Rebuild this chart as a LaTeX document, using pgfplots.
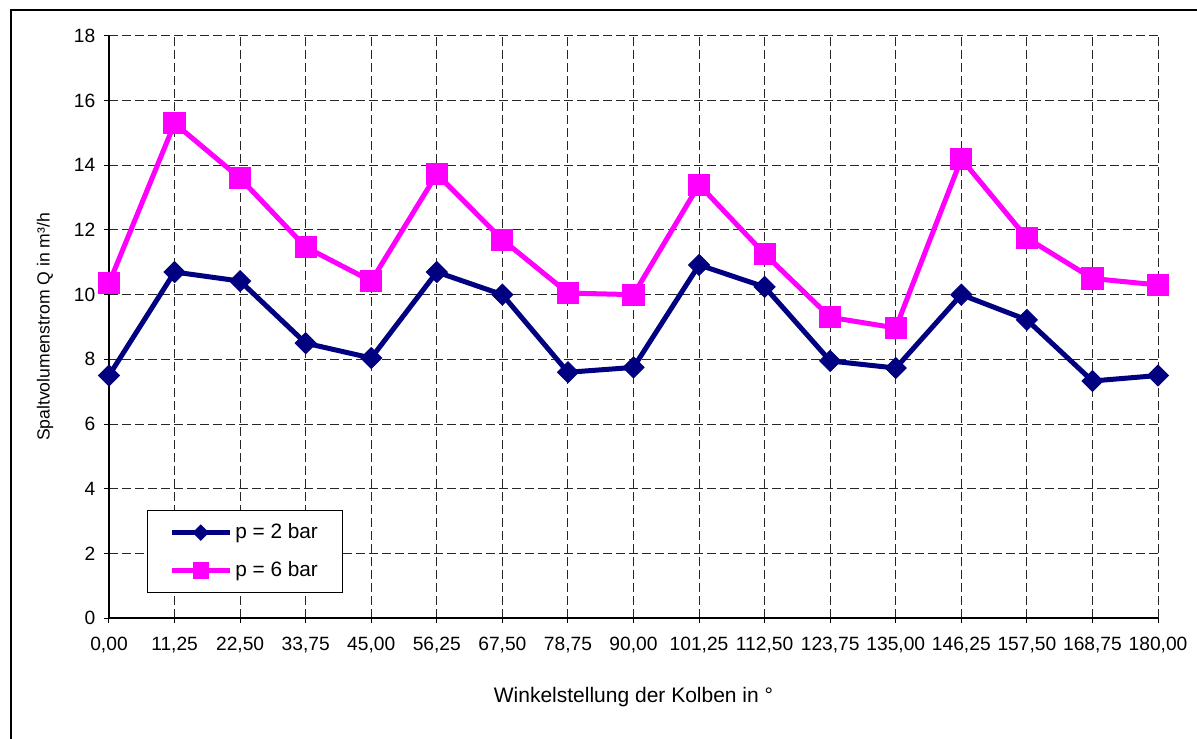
\documentclass[border=0pt]{standalone}
\usepackage{fontspec}
\setmainfont{Liberation Sans}
\usepackage{pgfplots}
\pgfplotsset{compat=1.18}
\definecolor{navyline}{RGB}{0,0,128}
\definecolor{magline}{RGB}{255,0,255}
\begin{document}
\fontsize{9.6}{11}\selectfont
\begin{tikzpicture}
\begin{axis}[
    at={(0pt,0pt)}, anchor=south west,
    scale only axis,
    width=524.5pt, height=291pt,
    xmin=0, xmax=180, ymin=0, ymax=18,
    xtick={0,11.25,...,180}, ytick={0,2,...,18},
    axis lines=left, axis line style={-, line width=0.9pt},
    grid=major, major grid style={black!85, dash pattern=on 4.5pt off 2pt, line width=0.5pt},
    tick align=outside, major tick length=2.5pt,
    tick style={black, line width=0.5pt},
    xticklabel={\pgfmathprintnumber[fixed, fixed zerofill, precision=2, use comma, assume math mode=true]{\tick}},
    yticklabel={\pgfmathprintnumber[assume math mode=true]{\tick}},
    xticklabel style={yshift=-3.5pt},
    yticklabel style={xshift=-1pt},
    xlabel={Winkelstellung der Kolben in °},
    ylabel={Spaltvolumenstrom Q in m³/h},
    xlabel style={at={(0.5,0)}, anchor=center, yshift=-39.5pt, font=\fontsize{10.5}{12}\selectfont},
    ylabel style={at={(0,0.5)}, anchor=center, yshift=32pt, font=\fontsize{8.8}{10}\selectfont},
    legend style={at={(0.036,0.043)}, anchor=south west, draw=black, line width=0.5pt,
        font=\fontsize{10.4}{12}\selectfont, row sep=6pt, inner xsep=11pt, inner ysep=4.5pt,
        nodes={inner xsep=1.5pt}},
    legend cell align=left,
    legend image code/.code={\draw[mark repeat=2, mark phase=2, #1, every mark/.append style={scale=0.72}]
        plot coordinates {(0pt,0pt) (14.5pt,0pt) (29pt,0pt)};},
    clip=false,
]
\addplot[navyline, line width=2.5pt, mark=square*, mark size=3.7pt,
    mark options={rotate=45, solid, line width=0.5pt}] coordinates {
    (0,7.5) (11.25,10.7) (22.5,10.42) (33.75,8.5) (45,8.04) (56.25,10.7)
    (67.5,10.0) (78.75,7.6) (90,7.75) (101.25,10.92) (112.5,10.24)
    (123.75,7.95) (135,7.73) (146.25,10.0) (157.5,9.22) (168.75,7.33) (180,7.5)
};
\addplot[magline, line width=2.5pt, mark=square*, mark size=5.3pt,
    mark options={solid, line width=0.5pt}] coordinates {
    (0,10.35) (11.25,15.3) (22.5,13.6) (33.75,11.47) (45,10.42) (56.25,13.73)
    (67.5,11.7) (78.75,10.05) (90,10.0) (101.25,13.4) (112.5,11.26)
    (123.75,9.3) (135,8.97) (146.25,14.2) (157.5,11.75) (168.75,10.5) (180,10.3)
};
\legend{p = 2 bar, p = 6 bar}
\end{axis}
\draw[line width=1pt] (-49pt,-90pt) -- (-49pt,304pt) -- (570pt,304pt);
\pgfresetboundingbox
\useasboundingbox (-54.5pt,-60pt) rectangle (544pt,309pt);
\end{tikzpicture}
\end{document}
